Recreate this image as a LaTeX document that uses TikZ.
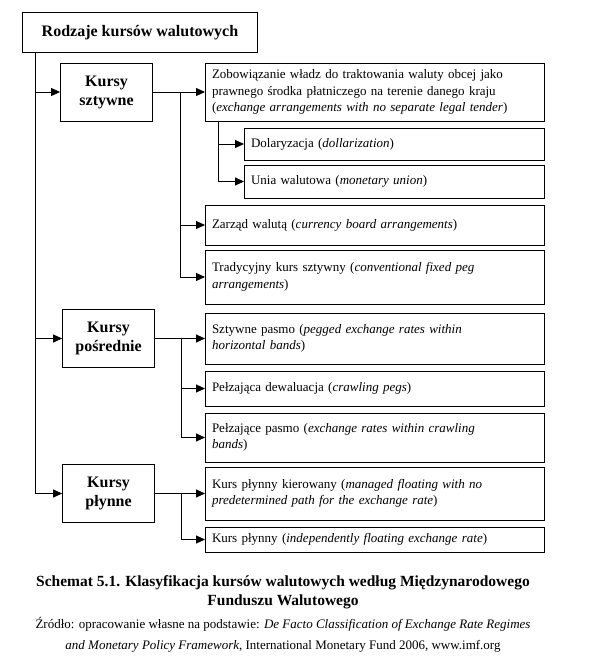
\documentclass[tikz,border=0pt]{standalone}
\usepackage{fontspec}
\setmainfont{Liberation Serif}
\usetikzlibrary{positioning,arrows.meta}

\begin{document}
\begin{tikzpicture}[x=1pt,y=-1pt,node distance=6pt,line width=0.9pt,
    arr/.style={-{Triangle[length=9pt,width=8pt]}},
    root/.style={draw, font=\bfseries\fontsize{16}{19}\selectfont, minimum width=235pt, minimum height=40pt},
    kind/.style={draw, align=center, font=\bfseries\fontsize{16}{19}\selectfont, minimum width=92pt, minimum height=58pt},
    item/.style={draw, align=left, outer sep=0pt, text width=325pt, inner xsep=7pt, font=\fontsize{13}{16.5}\selectfont},
    subitem/.style={item, text width=286pt}
    ]
    \useasboundingbox (0,0) rectangle (589,664);

    \node[root, anchor=north west] (root) at (22,12) {Rodzaje kursów walutowych};

    % right column
    \node[item, anchor=north west, minimum height=58pt] (o_0) at (205,63) {Zobowiązanie władz do traktowania waluty obcej jako\\prawnego środka płatniczego na terenie danego kraju\\(\textit{exchange arrangements with no separate legal tender})};
    \node[subitem, minimum height=32pt, below=7pt of o_0.south east, anchor=north east] (o_1) {Dolaryzacja (\textit{dollarization})};
    \node[subitem, minimum height=33pt, below=5pt of o_1.south east, anchor=north east] (o_2) {Unia walutowa (\textit{monetary union})};
    \node[item, minimum height=40pt, below=7pt of o_2.south east, anchor=north east] (o_3) {Zarząd walutą (\textit{currency board arrangements})};
    \node[item, minimum height=54pt, below=5pt of o_3] (o_4) {Tradycyjny kurs sztywny (\textit{conventional fixed peg}\\\textit{arrangements})};
    \node[item, minimum height=51pt, below=9pt of o_4] (o_5) {Sztywne pasmo (\textit{pegged exchange rates within}\\\textit{horizontal bands})};
    \node[item, minimum height=35pt, below=7pt of o_5] (o_6) {Pełzająca dewaluacja (\textit{crawling pegs})};
    \node[item, minimum height=49pt, below=7pt of o_6] (o_7) {Pełzające pasmo (\textit{exchange rates within crawling}\\\textit{bands})};
    \node[item, minimum height=53pt, below=5pt of o_7] (o_8) {Kurs płynny kierowany (\textit{managed floating with no}\\\textit{predetermined path for the exchange rate})};
    \node[item, minimum height=25pt, below=7pt of o_8] (o_9) {Kurs płynny (\textit{independently floating exchange rate})};

    % left column
    \node[kind] (k_0) [left=52pt of o_0] {Kursy\\sztywne};
    \node[kind] (k_1) [left=50pt of o_5] {Kursy\\pośrednie};
    \node[kind] (k_2) [left=50pt of o_8] {Kursy\\płynne};

    \coordinate (t_0) at ([xshift=13pt]root.south west);
    \draw[arr] (t_0) |- (k_0.west);
    \draw[arr] (t_0) |- (k_1.west);
    \draw[arr] (t_0) |- (k_2.west);

    \coordinate (b_0) at ([xshift=27pt]k_0.east);
    \draw[arr] (k_0.east) -- (o_0.west);
    \draw[arr] (b_0) |- (o_3.west);
    \draw[arr] (b_0) |- (o_4.west);

    \coordinate (c_0) at ([xshift=13pt]o_0.south west);
    \draw[arr] (c_0) |- (o_1.west);
    \draw[arr] (c_0) |- (o_2.west);

    \coordinate (b_1) at ([xshift=26pt]k_1.east);
    \draw[arr] (k_1.east) -- (o_5.west);
    \draw[arr] (b_1) |- (o_6.west);
    \draw[arr] (b_1) |- (o_7.west);

    \coordinate (b_2) at ([xshift=26pt]k_2.east);
    \draw[arr] (k_2.east) -- (o_8.west);
    \draw[arr] (b_2) |- (o_9.west);

    % caption
    \node[align=center, font=\bfseries\fontsize{15.5}{18.5}\selectfont] (cap) at (283,592) {Schemat 5.1. Klasyfikacja kursów walutowych według Międzynarodowego\\Funduszu Walutowego};
    \node[align=center, font=\fontsize{13}{21}\selectfont] (src) at (283,635) {Źródło: opracowanie własne na podstawie: \textit{De Facto Classification of Exchange Rate Regimes}\\\textit{and Monetary Policy Framework}, International Monetary Fund 2006, www.imf.org};
\end{tikzpicture}
\end{document}
